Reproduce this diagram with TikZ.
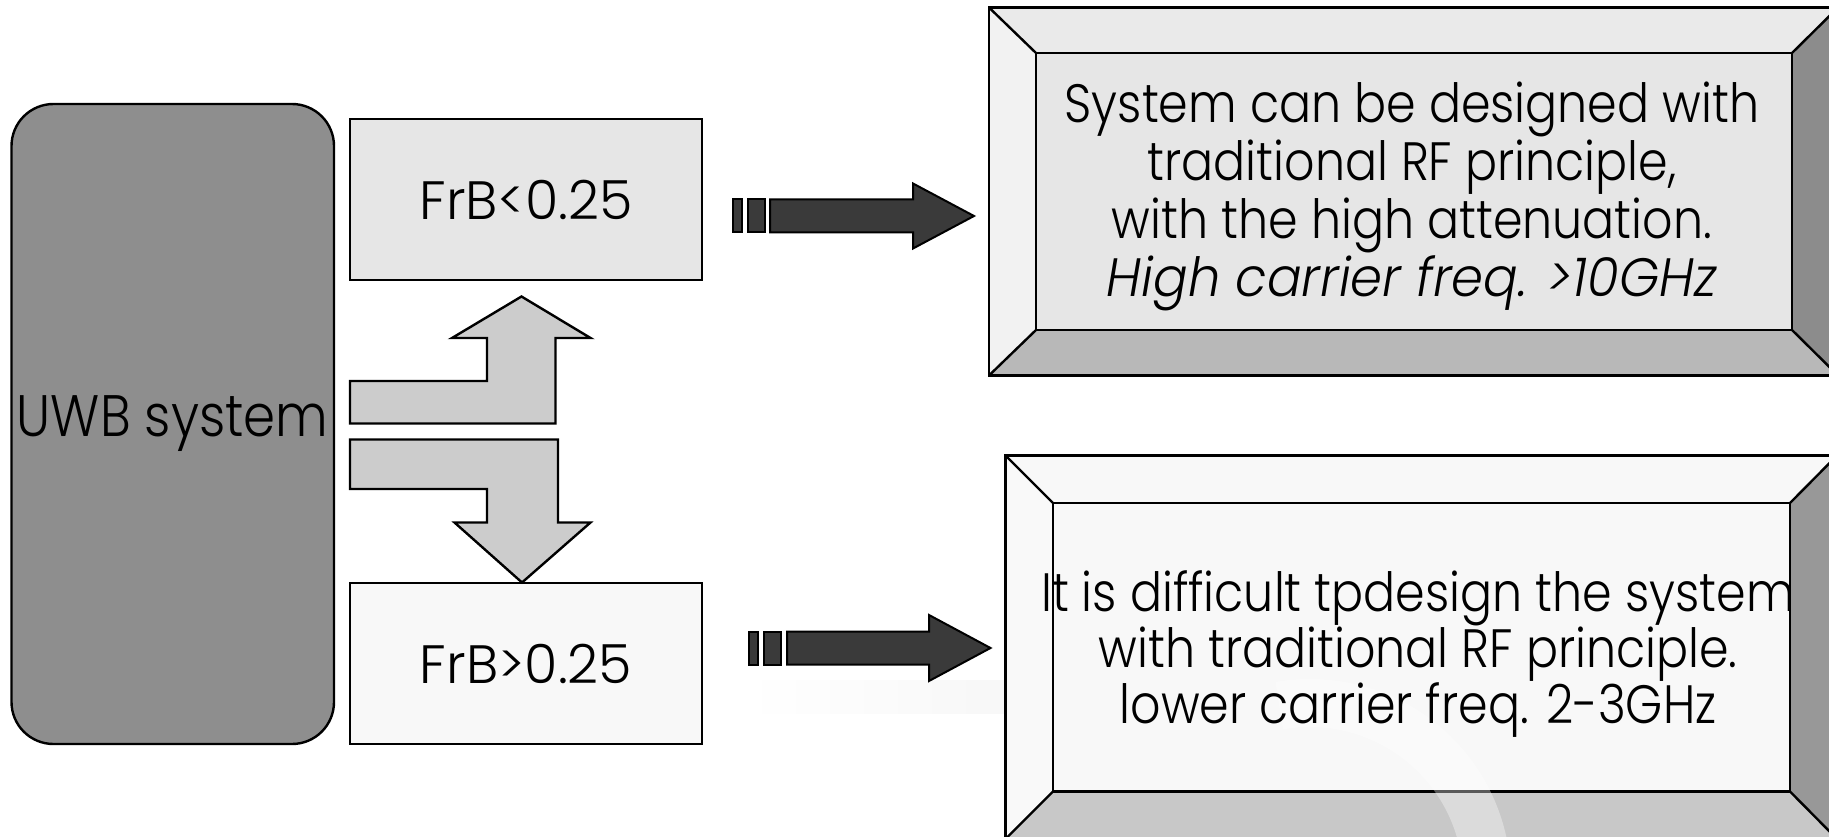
\documentclass[tikz,border=0pt]{standalone}
\usepackage{fontspec}
\setmainfont{Poppins}[FakeStretch=0.88, UprightFont=* Light, ItalicFont=* Light Italic]
\newfontfamily\rangefont{Poppins}[FakeStretch=1.0, UprightFont=* Light]
\newfontfamily\slantfont{Poppins}[FakeStretch=0.95, UprightFont=* Light Italic]
\usetikzlibrary{calc}

\definecolor{uwbgray}{HTML}{8E8E8E}
\definecolor{lowfill}{HTML}{E6E6E6}
\definecolor{highfill}{HTML}{F8F8F8}
\definecolor{bentfill}{HTML}{CCCCCC}
\definecolor{darkfill}{HTML}{3A3A3A}
% bevel shades, upper panel
\definecolor{aface}{HTML}{E6E6E6}
\definecolor{atop}{HTML}{EAEAEA}
\definecolor{aleft}{HTML}{F2F2F2}
\definecolor{abottom}{HTML}{B8B8B8}
\definecolor{aright}{HTML}{8C8C8C}
% bevel shades, lower panel
\definecolor{bface}{HTML}{F8F8F8}
\definecolor{btop}{HTML}{F8F8F8}
\definecolor{bleft}{HTML}{F9F9F9}
\definecolor{bbottom}{HTML}{C8C8C8}
\definecolor{bright}{HTML}{989898}

\tikzset{
  outline/.style={draw=black, line width=2.4pt, line join=miter},
  uwbbox/.style={outline, fill=uwbgray, rounded corners=42pt,
    minimum width=322.5pt, minimum height=640pt, inner sep=0pt,
    font=\fontsize{58.5}{62}\selectfont},
  frbbox/.style={outline, minimum width=352pt, minimum height=161pt,
    inner sep=0pt, font=\rangefont\fontsize{54}{58}\selectfont},
  bentarrow/.style={outline, fill=bentfill},
  darkarrow/.style={outline, line width=2pt, fill=darkfill},
  facetext/.style={align=center, inner sep=0pt},
}

\begin{document}
\begin{tikzpicture}[x=1pt, y=-1pt]
\useasboundingbox (0,0) rectangle (1829,837);
\clip (0,0) rectangle (1829,837);

% faint background swoosh
\shade[left color=white, right color=black!3] (745,680) rectangle (1005,713);

% source block and the two ranges
\node[uwbbox] (uwb) at (172.75,424) {UWB system};
\node[frbbox, fill=lowfill] (low) at (526,199.5) {FrB<0.25};
\node[frbbox, fill=highfill] (high) at (526,663.5) {FrB>0.25};

% bent arrow up to the narrow-band case
\draw[bentarrow] (350,381) -- (487,381) -- (487,338) -- (452,338)
  -- (521.5,296.5) -- (590.5,338) -- (555.5,338) -- (555.5,423.5)
  -- (350,423.5) -- cycle;
% bent arrow down to the wide-band case
\draw[bentarrow] (350,439.5) -- (558,439.5) -- (558,522.5) -- (590.5,522.5)
  -- (522,582.5) -- (454.5,522.5) -- (487,522.5) -- (487,489)
  -- (350,489) -- cycle;

% upper bevelled panel
\fill[atop]    (989,7.5) -- (1838,7.5) -- (1792,53) -- (1036,53) -- cycle;
\fill[aleft]   (989,7.5) -- (1036,53) -- (1036,330) -- (989,375.5) -- cycle;
\fill[abottom] (989,375.5) -- (1036,330) -- (1792,330) -- (1838,375.5) -- cycle;
\fill[aright]  (1838,7.5) -- (1838,375.5) -- (1792,330) -- (1792,53) -- cycle;
\draw[outline] (989,7.5) rectangle (1838,375.5);
\draw[outline] (989,7.5) -- (1036,53) (1838,7.5) -- (1792,53)
  (989,375.5) -- (1036,330) (1838,375.5) -- (1792,330);
\node[outline, fill=aface, minimum width=756pt, minimum height=277pt,
  inner sep=0pt] (upper) at (1414,191.5) {};
\node[facetext, font=\fontsize{54}{58}\selectfont] (uppertext) at (1412,196)
  {System can be designed with\\
   traditional RF principle,\\
   with the high attenuation.\\
   {\slantfont High carrier freq. >10GHz}};

% lower bevelled panel
\fill[btop]    (1005.5,455.5) -- (1837,455.5) -- (1790,503) -- (1053,503) -- cycle;
\fill[bleft]   (1005.5,455.5) -- (1053,503) -- (1053,791.5) -- (1005.5,839) -- cycle;
\fill[bbottom] (1005.5,839) -- (1053,791.5) -- (1790,791.5) -- (1837,839) -- cycle;
\fill[bright]  (1837,455.5) -- (1837,839) -- (1790,791.5) -- (1790,503) -- cycle;
\draw[outline] (1005.5,455.5) rectangle (1837,839);
\draw[outline] (1005.5,455.5) -- (1053,503) (1837,455.5) -- (1790,503)
  (1005.5,839) -- (1053,791.5) (1837,839) -- (1790,791.5);
\node[outline, fill=bface, minimum width=737pt, minimum height=288.5pt,
  inner sep=0pt] (lower) at (1421.5,647.25) {};
\draw[white, opacity=0.35, line width=48pt] (1310,880) ++(-100:177)
  arc[start angle=-100, end angle=0, radius=177];
\node[facetext, font=\fontsize{54}{53}\selectfont] (lowertext) at (1418,654)
  {It is difficult tpdesign the system\\
   with traditional RF principle.\\
   lower carrier freq. 2-3GHz};

% dark arrows from each range to its panel
\draw[darkarrow] (733,199.5) rectangle (742,232.5);
\draw[darkarrow] (748,199.5) rectangle (765,232.5);
\draw[darkarrow] (770,199.5) -- (913,199.5) -- (913,183.5) -- (974,216)
  -- (913,248.5) -- (913,232.5) -- (770,232.5) -- cycle;
\draw[darkarrow] (749,631.5) rectangle (758,664.5);
\draw[darkarrow] (764,631.5) rectangle (781,664.5);
\draw[darkarrow] (787,631.5) -- (929,631.5) -- (929,615) -- (990.5,648)
  -- (929,681) -- (929,664.5) -- (787,664.5) -- cycle;
\end{tikzpicture}
\end{document}
